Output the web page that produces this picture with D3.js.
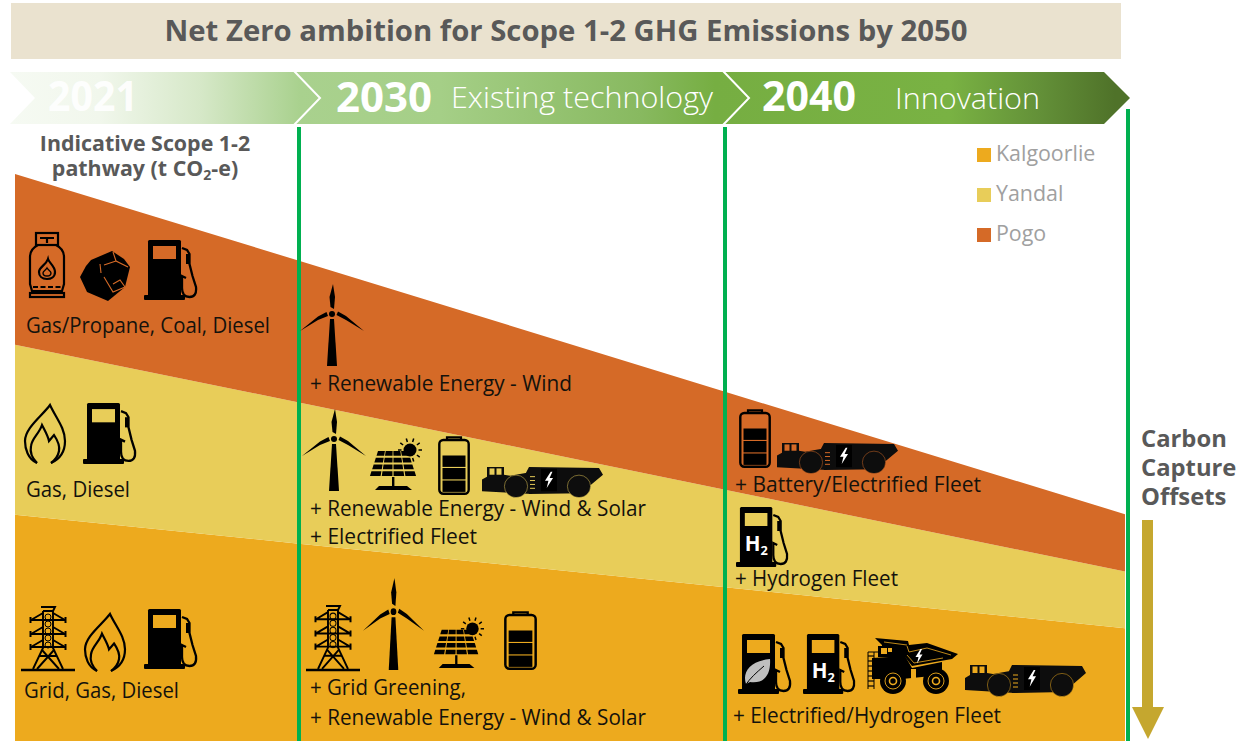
<!DOCTYPE html>
<html><head><meta charset="utf-8">
<script src="https://cdn.jsdelivr.net/npm/d3@7"></script>
<style>html,body{margin:0;padding:0;background:#fff}svg{display:block}text{font-family:"Open Sans",sans-serif}</style>
</head><body><svg id="c" width="1240" height="741"></svg>
<script>
// ---------- data ----------
const years = [2021, 2030, 2040, 2050];
const sites = ["Kalgoorlie", "Yandal", "Pogo"];
const kalgoorlie = [39.9, 34.8, 27.1, 19.9];
const yandal = [30.0, 24.9, 17.2, 10.0];
const pogo = [30.1, 25.0, 17.3, 10.1];
const siteColors = ["#edaa1e", "#e8cd59", "#d56a27"];
const title = "Net Zero ambition for Scope 1-2 GHG Emissions by 2050";
const phaseYears = ["2021", "2030", "2040"];
const phaseNames = ["Existing technology", "Innovation"];
const offsetWords = ["Carbon", "Capture", "Offsets"];

// ---------- scales ----------
const svg = d3.select("#c");
const x = d3.scaleLinear().domain(years).range([15, 299, 725, 1125]);
const y = d3.scaleLinear().domain([0, 100]).range([741, 174]);
const rows = years.map((yr, i) => ({yr, Kalgoorlie: kalgoorlie[i], Yandal: yandal[i], Pogo: pogo[i]}));
const stack = d3.stack().keys(sites)(rows);
const area = d3.area().x(d => x(d.data.yr)).y0(d => y(d[0])).y1(d => y(d[1]));
const color = d3.scaleOrdinal().domain(sites).range(siteColors);

const defs = svg.append("defs");
const grad = defs.append("linearGradient").attr("id", "band").attr("gradientUnits", "userSpaceOnUse")
  .attr("x1", 10).attr("x2", 1130).attr("y1", 0).attr("y2", 0);
[[10,"#f6faf3"],[100,"#f1f7ec"],[200,"#d6e8c8"],[300,"#a9d18e"],[440,"#a5cf87"],[640,"#88b960"],[715,"#76ae42"],[950,"#79b243"],[1040,"#639038"],[1115,"#4f7229"]]
  .forEach(s => grad.append("stop").attr("offset", (s[0]-10)/1120).attr("stop-color", s[1]));

// ---------- header ----------
svg.append("rect").attr("x", 11).attr("y", 3).attr("width", 1110).attr("height", 56).attr("fill", "#eae2cf");
svg.append("text").attr("x", 566).attr("y", 41).attr("text-anchor", "middle").attr("font-size", 29).attr("font-weight", 700)
  .attr("fill", "#595959").attr("textLength", 803).attr("lengthAdjust", "spacingAndGlyphs").text(title);
svg.append("path").attr("d", "M10 72 H1104 L1130 98 L1104 124 H10 L35 98 Z").attr("fill", "url(#band)");
[[294,320],[723,749]].forEach(c => svg.append("path").attr("fill", "none").attr("stroke", "#fff").attr("stroke-width", 2)
  .attr("d", `M${c[0]} 71 L${c[1]} 98 L${c[0]} 125`));
const yrText = [[48,111,90,.92],[336,112,96,1],[762,111,94,1]];
phaseYears.forEach((t, i) => svg.append("text").attr("x", yrText[i][0]).attr("y", yrText[i][1]).attr("font-size", 42).attr("font-weight", 700)
  .attr("fill", "#fff").attr("fill-opacity", yrText[i][3]).attr("textLength", yrText[i][2]).attr("lengthAdjust", "spacingAndGlyphs").text(t));
const nameText = [[451,108,262],[895,109,145]];
phaseNames.forEach((t, i) => svg.append("text").attr("x", nameText[i][0]).attr("y", nameText[i][1]).attr("font-size", 29).attr("font-weight", 300)
  .attr("fill", "#fff").attr("textLength", nameText[i][2]).attr("lengthAdjust", "spacingAndGlyphs").text(t));

// ---------- areas ----------
svg.append("g").selectAll("path").data(stack).join("path").attr("d", area).attr("fill", d => color(d.key));

// ---------- vertical year lines ----------
svg.append("g").selectAll("rect").data(years.slice(1)).join("rect")
  .attr("x", d => (d === 2050 ? x(d) + 1 : x(d) - 2)).attr("width", 4)
  .attr("y", d => d === 2050 ? 109 : 127).attr("height", d => d === 2050 ? 632 : 614).attr("fill", "#00b050");

// ---------- subtitle, legend ----------
const sub = svg.append("text").attr("fill", "#595959").attr("font-weight", 700).attr("font-size", 21.4).attr("text-anchor", "middle").attr("y", 151);
sub.append("tspan").attr("x", 145).text("Indicative Scope 1-2");
sub.append("tspan").attr("x", 145).attr("dy", 25).text("pathway (t CO");
sub.append("tspan").attr("font-size", 14).attr("dy", 4).text("2");
sub.append("tspan").attr("dy", -4).text("-e)");

const legend = svg.append("g").selectAll("g").data(sites).join("g").attr("transform", (d, i) => `translate(977,${148 + i * 40})`);
legend.append("rect").attr("width", 14).attr("height", 14).attr("fill", d => color(d));
legend.append("text").attr("x", 19).attr("y", 13).attr("font-size", 21.4).attr("fill", "#a0a0a0").text(d => d);

// ---------- offsets arrow ----------
offsetWords.forEach((w, i) => svg.append("text").attr("x", 1141).attr("y", 447 + i * 29).attr("font-size", 23.8).attr("font-weight", 700).attr("fill", "#595959").text(w));
svg.append("path").attr("d", "M1142 520 H1153 V707 H1164 L1148 739 L1132 707 H1142 Z").attr("fill", "#c5a72f");

// ---------- icons ----------
const K = "#000";
function bolt(g, cx, cy, s, fill) {
  g.append("path").attr("d", "M1.5 -7 L-3.5 1 L-0.5 1 L-2 7.5 L3.5 -1.5 L0.5 -1.5 L3 -7 Z")
    .attr("transform", `translate(${cx},${cy}) scale(${s})`).attr("fill", fill || "#fff");
}
const icons = {
  pump: {w:54, h:60, draw(g, bg, kind) {
    g.append("rect").attr("x",4).attr("y",0).attr("width",33).attr("height",57).attr("rx",1.5).attr("fill",K);
    g.append("rect").attr("x",0).attr("y",55).attr("width",41).attr("height",5).attr("rx",1).attr("fill",K);
    g.append("rect").attr("x",9).attr("y",6).attr("width",23).attr("height",13).attr("fill",bg);
    g.append("path").attr("d","M38 8 L43 10 L45.5 14 L45.5 24 L48.5 36 L52 47 Q53 57 45.5 57 Q38 57 38 48 L38 36 L42 38")
      .attr("fill","none").attr("stroke",K).attr("stroke-width",2.3);
    g.append("rect").attr("x",42).attr("y",14).attr("width",3.5).attr("height",10).attr("fill",K);
    if (kind === "h2") {
      const t = g.append("text").attr("x",9).attr("y",44).attr("fill","#fff").attr("font-weight",700).attr("font-size",21).attr("font-family","Liberation Sans, sans-serif");
      t.append("tspan").text("H");
      t.append("tspan").attr("font-size",13).attr("dy",4).text("2");
    }
    if (kind === "leaf") {
      g.append("path").attr("d","M8 50 C4 38 12 27 32 25 C33 40 27 50 12 48 Z").attr("fill","#bfbfbf");
      g.append("path").attr("d","M7 52 C12 44 18 39 26 32").attr("fill","none").attr("stroke",K).attr("stroke-width",1);
    }
  }},
  flame: {w:42, h:59, draw(g) {
    const s = g.append("g").attr("fill","none").attr("stroke",K).attr("stroke-width",2.2);
    s.append("path").attr("d","M13 59 C4 55 1 45 1 37 C1 24 18 12 26 1 C32 14 41 24 41 37 C41 47 36 55 27 59");
    s.append("path").attr("d","M13 59 C7 53 6 47 7 42 C8 34 15 30 18 21 C21 27 24 32 25 37 L30 31 C34 37 36 42 35 47 C34 53 31 56 27 59");
  }},
  cylinder: {w:36, h:66, draw(g) {
    const s = g.append("g").attr("fill","none").attr("stroke",K).attr("stroke-width",2.2);
    s.append("rect").attr("x",7).attr("y",1).attr("width",22).attr("height",12);
    s.append("path").attr("d","M11 6 H25 M18 6 V11");
    s.append("path").attr("d","M9 13 H27 Q35 17 35 25 V52 L33 59 H3 L1 52 V25 Q1 17 9 13 Z");
    s.append("rect").attr("x",1).attr("y",61).attr("width",34).attr("height",4);
    s.append("path").attr("d","M4 55 H32").attr("stroke-dasharray","5 2.5");
    s.append("path").attr("d","M19 27 C20 31 26 34 26 40 C26 45 22 47 18 47 C13 47 10 44 10 40 C10 35 17 33 19 27 Z");
    s.append("path").attr("d","M18 36 C19 38 22 39 22 41 C22 43 20 44 18 44 C16 44 14 43 14 41 C14 39 17 38 18 36 Z").attr("stroke-width",1.4);
  }},
  coal: {w:50, h:50, draw(g, bg) {
    g.append("path").attr("d","M0 26 L6 15 L11 9 L32 0 L44 8 L50 16 L47 28 L45 36 L28 50 L7 41 Z").attr("fill",K);
    const s = g.append("g").attr("fill","none").attr("stroke",bg).attr("stroke-width",1.1);
    s.append("path").attr("d","M33 1 L36 10 L48 16 M36 10 L24 14");
    s.append("path").attr("d","M24 26 L33 41 L45 36 L40 29 L33 33");
    s.append("path").attr("d","M20 13 L21 22");
  }},
  turbine: {w:64, h:82, draw(g) {
    g.append("path").attr("d","M30 35 H34 L37 82 H27 Z").attr("fill",K);
    g.append("circle").attr("cx",32).attr("cy",30).attr("r",3).attr("fill",K);
    g.append("path").attr("d","M33 0 L35 13 L34 25 L30.5 23 L29.5 13 Z").attr("fill",K);
    g.append("path").attr("d","M64 47 L46 32 L38 27.5 L36.5 31 L46 36 Z").attr("fill",K);
    g.append("path").attr("d","M0 47 L18 36 L28 32 L26.5 28 L18 32.5 Z").attr("fill",K);
  }},
  solar: {w:53, h:53, draw(g, bg) {
    const cols = 4, rws = 4;
    const pt = (u, v) => [9 + (0 - 9) * v + (30 + (48 - 30) * v) * u, 12 + v * 27];
    d3.range(rws).forEach(r => d3.range(cols).forEach(c => {
      const a = .05, u0 = c / cols + a / cols, u1 = (c + 1) / cols - a / cols, v0 = r / rws + .04, v1 = (r + 1) / rws - .04;
      g.append("path").attr("d", d3.line()([pt(u0,v0),pt(u1,v0),pt(u1,v1),pt(u0,v1)]) + "Z").attr("fill",K);
    }));
    g.append("rect").attr("x",23).attr("y",39).attr("width",2.4).attr("height",9).attr("fill",K);
    g.append("path").attr("d","M10 48 H38 L43 52 H6 Z").attr("fill",K);
    g.append("circle").attr("cx",41).attr("cy",12).attr("r",6.5).attr("fill",K);
    d3.range(-5,3).forEach(i => {
      const a = i * Math.PI / 5;
      g.append("line").attr("x1",41+8.5*Math.cos(a)).attr("y1",12+8.5*Math.sin(a)).attr("x2",41+12*Math.cos(a)).attr("y2",12+12*Math.sin(a)).attr("stroke",K).attr("stroke-width",1.5);
    });
  }},
  battery: {w:32, h:59, draw(g) {
    g.append("rect").attr("x",1.3).attr("y",4).attr("width",29.4).attr("height",53.7).attr("rx",4).attr("fill","none").attr("stroke",K).attr("stroke-width",2.4);
    g.append("path").attr("d","M9 4 V1.3 H23 V4").attr("fill","none").attr("stroke",K).attr("stroke-width",2.2);
    [19.5,32,44.5].forEach(yy => g.append("rect").attr("x",4.5).attr("y",yy).attr("width",23).attr("height",11.4).attr("fill",K));
  }},
  loader: {w:121, h:33, draw(g, bg) {
    const D = "#0d0d0d";
    g.append("path").attr("d","M47 1 L117 2 L121 9 L106 22 L100 28 L47 29 L44 7 Z").attr("fill",D);
    g.append("path").attr("d","M0 14 L5 11 L5 1 H22 V9 L28 10 L45 7 L50 29 L0 26 Z").attr("fill",D);
    g.append("rect").attr("x",7.5).attr("y",2.5).attr("width",5).attr("height",6.5).attr("fill",bg);
    g.append("rect").attr("x",14.5).attr("y",2.5).attr("width",5).attr("height",6.5).attr("fill",bg);
    g.append("circle").attr("cx",34).attr("cy",21).attr("r",11.6).attr("fill",D).attr("stroke",bg).attr("stroke-width",.5);
    g.append("circle").attr("cx",97).attr("cy",21).attr("r",11.6).attr("fill",D).attr("stroke",bg).attr("stroke-width",.5);
    [11,15,19,23].forEach(v => g.append("line").attr("x1",48).attr("x2",53).attr("y1",v).attr("y2",v).attr("stroke",bg).attr("stroke-width",1));
    g.append("rect").attr("x",59).attr("y",3).attr("width",16).attr("height",23).attr("fill",K);
    bolt(g, 67, 14, 1.15);
  }},
  truck: {w:91, h:57, draw(g, bg) {
    g.append("path").attr("d","M8 1 L41 4 L42 8 L60 6 L91 17 L85 22 L45 29 L38 20 L15 20 L15 8 Z").attr("fill",K);
    g.append("path").attr("d","M11 9 H38 L39 20 H11 Z").attr("fill",K);
    g.append("rect").attr("x",14).attr("y",11).attr("width",6).attr("height",6).attr("fill",bg);
    g.append("rect").attr("x",21).attr("y",11).attr("width",4).attr("height",4).attr("fill",bg);
    g.append("path").attr("d","M5 21 L38 19 L45 31 L75 25 L75 38 L35 42 L5 42 Z").attr("fill",K);
    g.append("path").attr("d","M1 15 H12 M1 15 V52 M7 15 V52").attr("stroke",K).attr("stroke-width",1).attr("fill","none");
    d3.range(19,52,5).forEach(v => g.append("line").attr("x1",1).attr("x2",7).attr("y1",v).attr("y2",v).attr("stroke",K).attr("stroke-width",1.2));
    g.append("path").attr("d","M17 5 L40 8 M40 9 L42 15 L60 11 L84 18 M40 18 L47 26 L76 21").attr("fill","none").attr("stroke",bg).attr("stroke-width",.8);
    g.append("rect").attr("x",44).attr("y",32).attr("width",5).attr("height",13).attr("fill",bg);
    [26,69].forEach(cx => {
      g.append("circle").attr("cx",cx).attr("cy",44).attr("r",13).attr("fill",K);
      g.append("circle").attr("cx",cx).attr("cy",44).attr("r",8).attr("fill","none").attr("stroke",bg).attr("stroke-width",.9);
      g.append("circle").attr("cx",cx).attr("cy",44).attr("r",3.5).attr("fill","none").attr("stroke",bg).attr("stroke-width",1.6);
    });
    bolt(g, 52, 19, 1, "#fff");
  }},
  pylon: {w:54, h:65, draw(g) {
    const s = g.append("g").attr("fill","none").attr("stroke",K).attr("stroke-width",1.9);
    s.append("path").attr("d","M0 64 H54").attr("stroke-width",2.6);
    s.append("path").attr("d","M20 1 H34 L32 5 V42 L42 63 M22 5 V42 L12 63 M22 5 H32");
    s.append("path").attr("d","M21 44 L38 63 M33 44 L16 63 M18 50 H36");
    [14,28,41].forEach(v => {
      s.append("path").attr("d",`M10 ${v} H44 M10 ${v} L22 ${v-7} M44 ${v} L32 ${v-7}`);
      s.append("path").attr("d",`M9.5 ${v-3} V${v+3} M44.5 ${v-3} V${v+3}`).attr("stroke-width",2);
    });
    [11,18,25,32,39].forEach(v => s.append("circle").attr("cx",27).attr("cy",v).attr("r",3).attr("stroke-width",1));
  }}
};
const OR = siteColors[2], YE = siteColors[1], GO = siteColors[0];
const placed = [
  ["cylinder",29,65,232,298,OR],["coal",80,130,251,301,OR],["pump",144,198,240,300,OR],
  ["flame",24,66,404,463,YE],["pump",83,137,403,464,YE],
  ["pylon",21,75,606,671,GO],["flame",84,126,613,671,GO],["pump",144,198,609,669,GO],
  ["turbine",300,364,284,366,OR],
  ["turbine",302,366,409,491,YE],["solar",369,422,438,491,YE],["battery",438,470,436,495,YE],["loader",482,603,466,498,YE],
  ["pylon",306,360,605,671,GO],["turbine",363,424,578,670,GO],["solar",433,484,617,669,GO],["battery",504,537,611,670,GO],
  ["battery",739,771,409,468,OR],["loader",777,898,442,474,OR],
  ["pump",736,789,507,567,YE,"h2"],
  ["pump",738,792,634,694,GO,"leaf"],["pump",803,856,634,694,GO,"h2"],["truck",867,958,637,694,GO],["loader",965,1086,664,697,GO]
];
placed.forEach(p => {
  const ic = icons[p[0]];
  const g = svg.append("g").attr("transform", `translate(${p[1]},${p[3]}) scale(${(p[2]-p[1])/ic.w},${(p[4]-p[3])/ic.h})`);
  ic.draw(g, p[5], p[6]);
});

// ---------- captions ----------
const captions = [
  ["Gas/Propane, Coal, Diesel",26,333,244],["Gas, Diesel",26,497,104],["Grid, Gas, Diesel",24,698,155],
  ["+ Renewable Energy - Wind",310,391,262],
  ["+ Renewable Energy - Wind & Solar",310,516,336],["+ Electrified Fleet",310,544,167],
  ["+ Grid Greening,",310,695,156],["+ Renewable Energy - Wind & Solar",310,725,336],
  ["+ Battery/Electrified Fleet",735,492,246],["+ Hydrogen Fleet",735,586,163],["+ Electrified/Hydrogen Fleet",733,723,268]
];
svg.append("g").selectAll("text").data(captions).join("text")
  .attr("x", d => d[1]).attr("y", d => d[2]).attr("textLength", d => d[3]).attr("lengthAdjust", "spacingAndGlyphs")
  .attr("font-size", 22).attr("font-weight", 500).attr("fill", "#14120c").text(d => d[0]);
</script></body></html>
